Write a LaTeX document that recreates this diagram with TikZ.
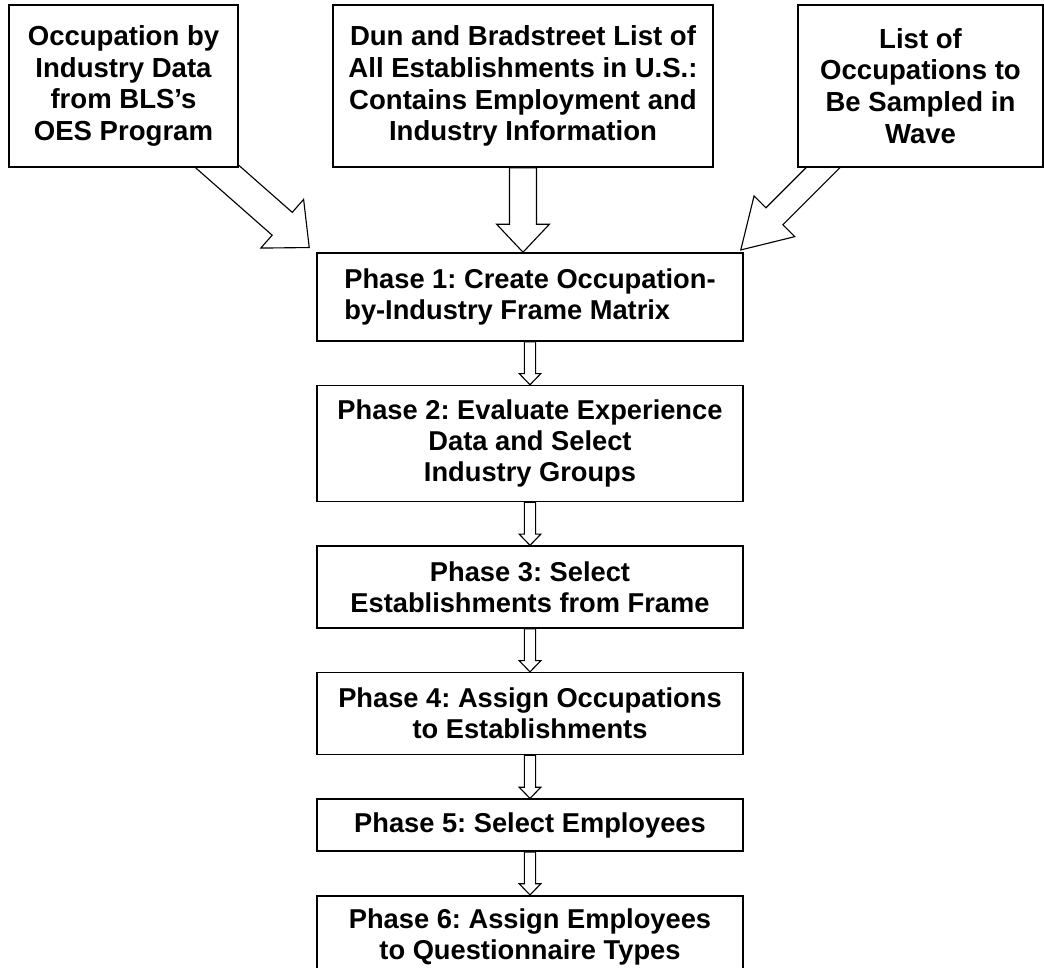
\documentclass[tikz,border=0pt]{standalone}
\usepackage{fontspec}
\setmainfont{Liberation Sans}
\usetikzlibrary{positioning,calc,backgrounds}
\frenchspacing

\begin{document}
\begin{tikzpicture}[
    node distance=1.075cm,
    source/.style={rectangle, draw, line width=1.1pt, fill=white, minimum height=4.05cm, align=center, font=\fontsize{19.6}{22.6}\selectfont\bfseries},
    phase/.style={rectangle, draw, line width=1.1pt, fill=white, minimum width=10.65cm, minimum height=2.05cm, align=center, font=\fontsize{19.4}{22}\selectfont\bfseries},
    blockarrow/.style n args={3}{draw, fill=white, line width=0.8pt, line join=miter,
        to path={($(\tikztostart)!#1!90:(\tikztotarget)$)
            -- ($(\tikztotarget)!#3!(\tikztostart)!#1!90:(\tikztotarget)$)
            -- ($(\tikztotarget)!#3!(\tikztostart)!#2!90:(\tikztotarget)$)
            -- (\tikztotarget)
            -- ($(\tikztotarget)!#3!(\tikztostart)!#2!-90:(\tikztotarget)$)
            -- ($(\tikztotarget)!#3!(\tikztostart)!#1!-90:(\tikztotarget)$)
            -- ($(\tikztostart)!#1!-90:(\tikztotarget)$) -- cycle}}
]

    \useasboundingbox (0,0) rectangle (26.1,-24.175);

    % --- Input sources ---
    \node[source, minimum width=5.725cm] (occ) at (3.0875,-2.15) {Occupation by\\Industry Data\\from BLS’s\\OES Program};
    \node[source, minimum width=9.5cm] (dnb) at (13.075,-2.15) {Dun and Bradstreet List of\\All Establishments in U.S.:\\Contains Employment and\\Industry Information};
    \node[source, minimum width=6.125cm] (wave) at (23.0125,-2.15) {List of\\Occupations to\\Be Sampled in\\Wave};

    % --- Phases ---
    \node[phase, minimum height=2.2cm, align=left] (p1) at (13.25,-7.425) {Phase 1: Create Occupation-\\by-Industry Frame Matrix};
    \node[phase, minimum height=2.9cm, below=of p1] (p2) {Phase 2: Evaluate Experience\\Data and Select\\Industry Groups};
    \node[phase, below=of p2] (p3) {Phase 3: Select\\Establishments from Frame};
    \node[phase, below=of p3] (p4) {Phase 4: Assign Occupations\\to Establishments};
    \node[phase, minimum height=1.3cm, below=of p4] (p5) {Phase 5: Select Employees};
    \node[phase, below=of p5] (p6) {Phase 6: Assign Employees\\to Questionnaire Types};

    % Arrow ends
    \coordinate (occ-tail) at ($(occ.south east)+(-1.2,0.6125)$);
    \coordinate (p1-nw) at ($(p1.north west)+(-0.175,0.1175)$);
    \coordinate (wave-tail) at ($(wave.south west)+(1.05,0.4075)$);
    \coordinate (p1-ne) at ($(p1.north east)+(-0.075,0.0575)$);
    \coordinate (p1-top) at (dnb.south |- p1.north);

    % --- Block arrows ---
    \begin{scope}[on background layer]
        \draw[blockarrow={0.38cm}{0.81cm}{0.9cm}] (occ-tail) to (p1-nw);
        \draw[blockarrow={0.3375cm}{0.66cm}{0.7cm}] (dnb.south) to (p1-top);
        \draw[blockarrow={0.3cm}{0.72cm}{1.19cm}] (wave-tail) to (p1-ne);
        \foreach \src/\dst in {p1/p2,p2/p3,p3/p4,p4/p5,p5/p6}
            \draw[blockarrow={0.14cm}{0.27cm}{0.28cm}] (\src.south) to (\dst.north);
    \end{scope}

\end{tikzpicture}
\end{document}
